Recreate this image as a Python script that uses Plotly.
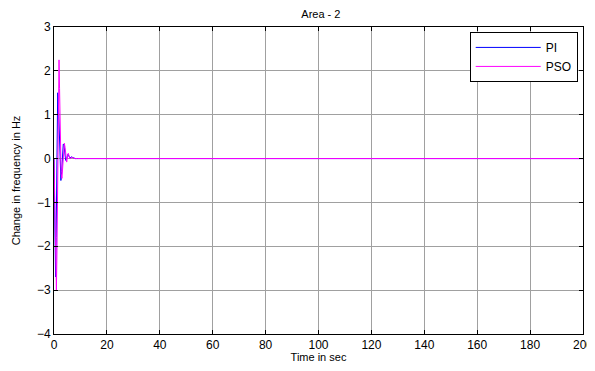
import plotly.graph_objects as go

# PI response (blue)
pi_t = [0, 0.2, 0.4, 0.6, 0.8, 1.0, 1.2, 1.4, 1.6, 1.8, 2.0, 2.3, 2.6, 2.9, 3.2, 3.5, 3.8, 4.1, 4.4, 4.7, 5.0, 5.3, 5.6, 6.0, 6.5, 7.0, 7.5, 8.0, 9.0, 10.0, 200.0]
pi_v = [0, -1.2, -2.3, -2.7, -1.8, -0.2, 1.0, 1.5, 1.4, 0.9, 0.3, -0.3, -0.5, -0.3, 0.1, 0.33, 0.3, 0.1, -0.04, -0.02, 0.08, 0.1, 0.06, 0.01, 0.04, 0.03, 0.01, 0.0, 0.0, 0.0, 0.0]

# PSO response (magenta)
pso_t = [0, 0.3, 0.6, 0.9, 1.1, 1.3, 1.5, 1.7, 1.9, 2.1, 2.4, 2.7, 3.0, 3.3, 3.6, 3.9, 4.2, 4.5, 4.8, 5.1, 5.4, 5.7, 6.1, 6.5, 7.0, 7.5, 8.0, 9.0, 10.0, 200.0]
pso_v = [0, -1.4, -2.6, -3.0, -2.2, -0.6, 1.0, 2.0, 2.25, 1.6, 0.4, -0.35, -0.45, -0.15, 0.2, 0.35, 0.25, 0.0, -0.08, 0.05, 0.12, 0.06, -0.01, 0.03, 0.02, 0.0, 0.0, 0.0, 0.0, 0.0]

x_ticks = [0, 20, 40, 60, 80, 100, 120, 140, 160, 180, 200]
y_ticks = [-4, -3, -2, -1, 0, 1, 2, 3]

fig = go.Figure()
fig.add_trace(go.Scatter(x=pi_t, y=pi_v, mode="lines", name="PI",
                         line=dict(color="#0000FF", width=1)))
fig.add_trace(go.Scatter(x=pso_t, y=pso_v, mode="lines", name="PSO",
                         line=dict(color="#FF00FF", width=1)))

axis_common = dict(showline=True, linecolor="black", linewidth=1, mirror="ticks",
                   ticks="inside", ticklen=4, tickcolor="black",
                   showgrid=True, gridcolor="#a0a0a0", gridwidth=1,
                   zeroline=False, automargin=False,
                   tickfont=dict(size=12, color="black"))

# page body has an 8px margin, so the figure is sized to fit the window
fig.update_layout(
    width=587, height=355,
    margin=dict(l=46, r=12, t=19, b=29),
    paper_bgcolor="white", plot_bgcolor="white",
    font=dict(family="Liberation Sans, Arial, sans-serif", size=11, color="black"),
    title=dict(text="Area - 2", x=0.533, xanchor="center", y=1.0, yanchor="top",
               pad=dict(t=2), font=dict(size=11)),
    xaxis=dict(range=[0, 200], tickvals=x_ticks,
               title=dict(text="Time in sec", standoff=0, font=dict(size=11)),
               **axis_common),
    yaxis=dict(range=[-4, 3], tickvals=y_ticks,
               title=dict(text="Change in frequency in Hz", standoff=14, font=dict(size=11)),
               **axis_common),
    legend=dict(x=0.99, y=0.984, xanchor="right", yanchor="top",
                bgcolor="white", bordercolor="black", borderwidth=1,
                font=dict(size=12), tracegroupgap=0, itemwidth=65),
    showlegend=True,
)

fig.write_html("out.html")
